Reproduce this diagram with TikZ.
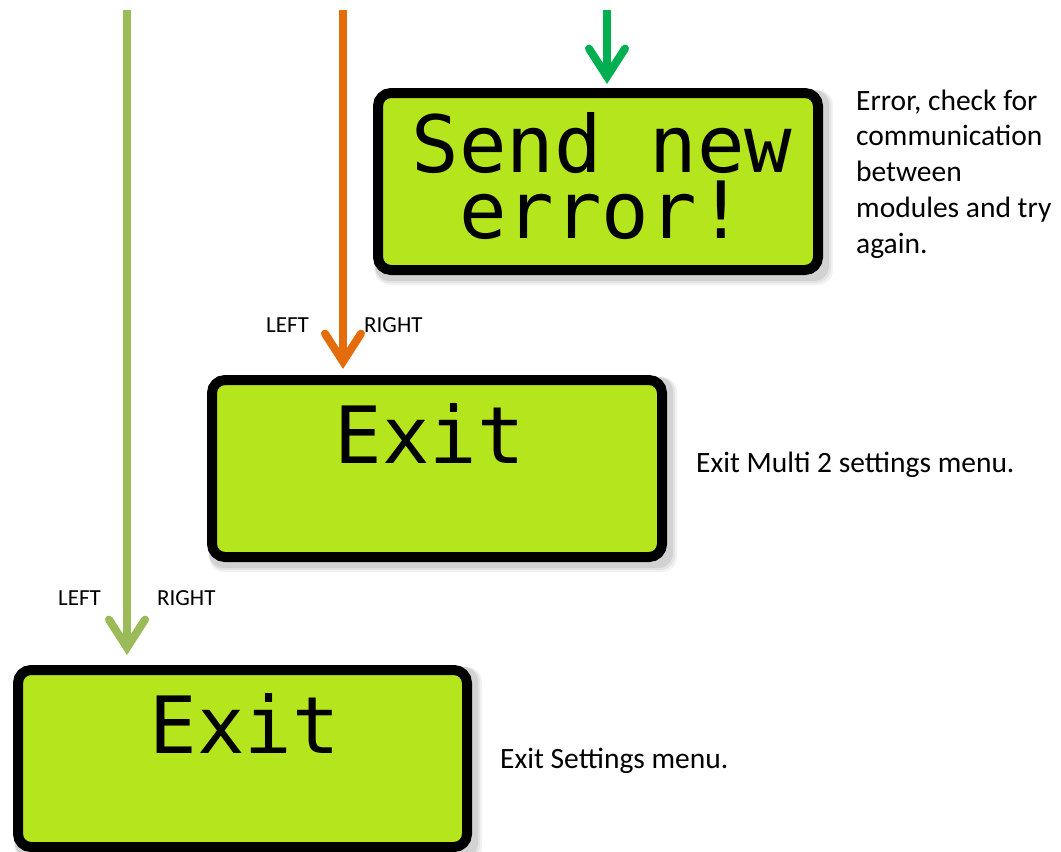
\documentclass[tikz,border=0pt]{standalone}
\usepackage{fontspec}
\setmainfont{Carlito}
\newfontfamily\lcdfont{DejaVu Sans Mono}
\usetikzlibrary{arrows.meta,backgrounds}
\definecolor{lcd}{RGB}{181,230,29}
\definecolor{arrgreen}{RGB}{0,176,80}
\definecolor{arrorange}{RGB}{228,108,10}
\definecolor{arrlime}{RGB}{155,187,89}
\begin{document}
\begin{tikzpicture}[x=1pt,y=-1pt,
  lcdbox/.style={draw=black, fill=lcd, line width=10pt, rounded corners=13pt,
    minimum height=177pt, inner sep=0pt},
  lcdtext/.style={font=\lcdfont\fontsize{79}{66}\selectfont, inner sep=0pt, anchor=base},
  flowarrow/.style={line width=8pt, -{Straight Barb[length=28pt, width=36pt, line cap=round, line join=miter]}},
  keylabel/.style={font=\fontsize{23}{26}\selectfont, inner sep=0pt, anchor=base west},
  desc/.style={font=\fontsize{29.5}{35.7}\selectfont, inner sep=0pt, anchor=base west, align=left},
]
\path[use as bounding box] (0,0) rectangle (1061,852);

% LCD boxes
\node[lcdbox, minimum width=440pt] (b1) at (598,181.5) {};
\node[lcdbox, minimum width=450pt] (b2) at (437,468.5) {};
\node[lcdbox, minimum width=449pt] (b3) at (242.5,758.5) {};

% shadows
\begin{scope}[on background layer]
  \foreach \b in {b1,b2,b3}{
    \foreach \d/\o in {10/0.05, 8/0.06, 6/0.08}{
      \fill[black, opacity=\o, rounded corners=15pt]
        ([shift={(2,2)}]\b.north west) rectangle ([shift={(\d,\d)}]\b.south east);
    }
  }
\end{scope}

% LCD texts
\node[lcdtext, align=center] (t1) at (602,238) {Send new\\error!};
\node[lcdtext] (t2) at (430,463) {Exit};
\node[lcdtext] (t3) at (245,753) {Exit};

% arrows
\coordinate (gtop) at (607,10);
\coordinate (otop) at (343,10);
\coordinate (ltop) at (127,10);
\draw[flowarrow, arrgreen, shorten >=4pt] (gtop) -- (gtop |- b1.north);
\draw[flowarrow, arrorange, shorten >=6pt] (otop) -- (otop |- b2.north);
\draw[flowarrow, arrlime, shorten >=10pt] (ltop) -- (ltop |- b3.north);

% key labels
\node[keylabel] (l1) at (266,332) {LEFT};
\node[keylabel] (r1) at (364,332) {RIGHT};
\node[keylabel] (l2) at (58,605) {LEFT};
\node[keylabel] (r2) at (157,605) {RIGHT};

% descriptions
\node[desc] (d1) at (856,253) {Error, check for\\communication\\between\\modules and try\\again.};
\node[desc] (d2) at (696,472) {Exit Multi 2 settings menu.};
\node[desc] (d3) at (500,768) {Exit Settings menu.};
\end{tikzpicture}
\end{document}
